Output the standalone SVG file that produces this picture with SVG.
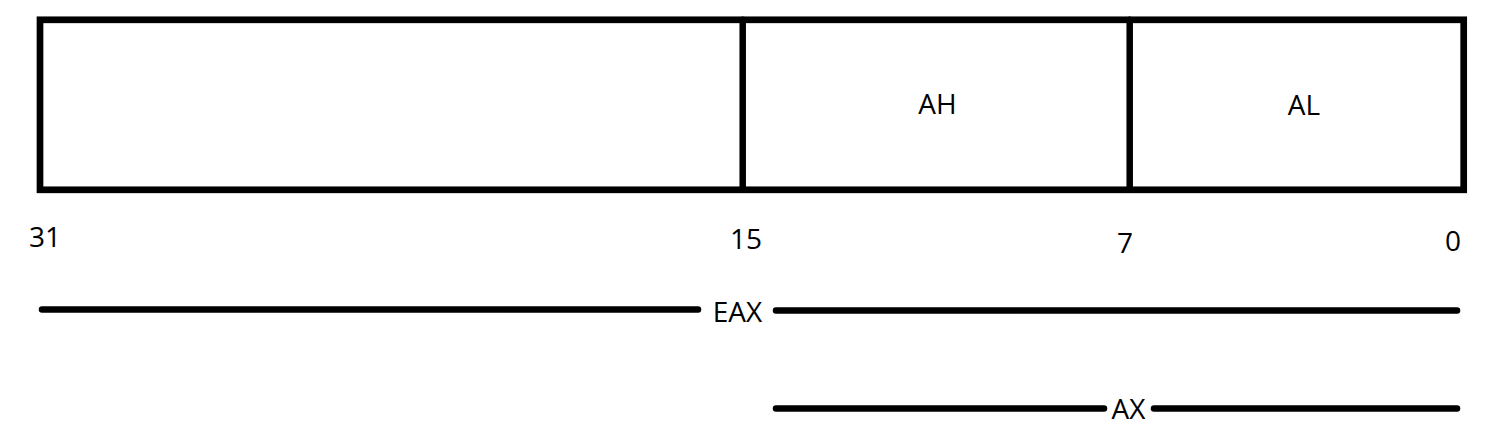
<svg xmlns="http://www.w3.org/2000/svg" width="1508" height="428" viewBox="0 0 1508 428">
<style>
.box{fill:#fff;stroke:#000;stroke-width:6.7}
.ln{stroke:#000;stroke-width:6.5;stroke-linecap:round;fill:none}
text{font-family:"Open Sans","Liberation Sans",sans-serif;font-size:28px;fill:#000}
</style>
<rect width="1508" height="428" fill="#fff"/>
<g id="register">
<rect class="box" x="40" y="19.8" width="1423.7" height="170"/>
</g>
<g id="upper16">
<line class="ln" x1="742.7" y1="19.8" x2="742.7" y2="189.8" stroke-linecap="butt"/>
</g>
<g id="AH">
<text x="937.5" y="114" text-anchor="middle">AH</text>
</g>
<g id="AL">
<line class="ln" x1="1129.7" y1="19.8" x2="1129.7" y2="189.8" stroke-linecap="butt"/>
<text x="1304" y="115" text-anchor="middle">AL</text>
</g>
<g id="bit-labels">
<text x="29" y="246.5">31</text>
<text x="730" y="249">15</text>
<text x="1117" y="253">7</text>
<text x="1445" y="250.5">0</text>
</g>
<g id="connectors">
<line class="ln" x1="42" y1="309.5" x2="698" y2="309.5"/>
<line class="ln" x1="776" y1="310.5" x2="1457" y2="310.5"/>
<line class="ln" x1="776" y1="408.5" x2="1104" y2="408.5"/>
<line class="ln" x1="1154" y1="408.5" x2="1457" y2="408.5"/>
</g>
<g id="EAX">
<text x="737.5" y="321.5" text-anchor="middle">EAX</text>
</g>
<g id="AX">
<text x="1128.5" y="418.5" text-anchor="middle">AX</text>
</g>
</svg>
